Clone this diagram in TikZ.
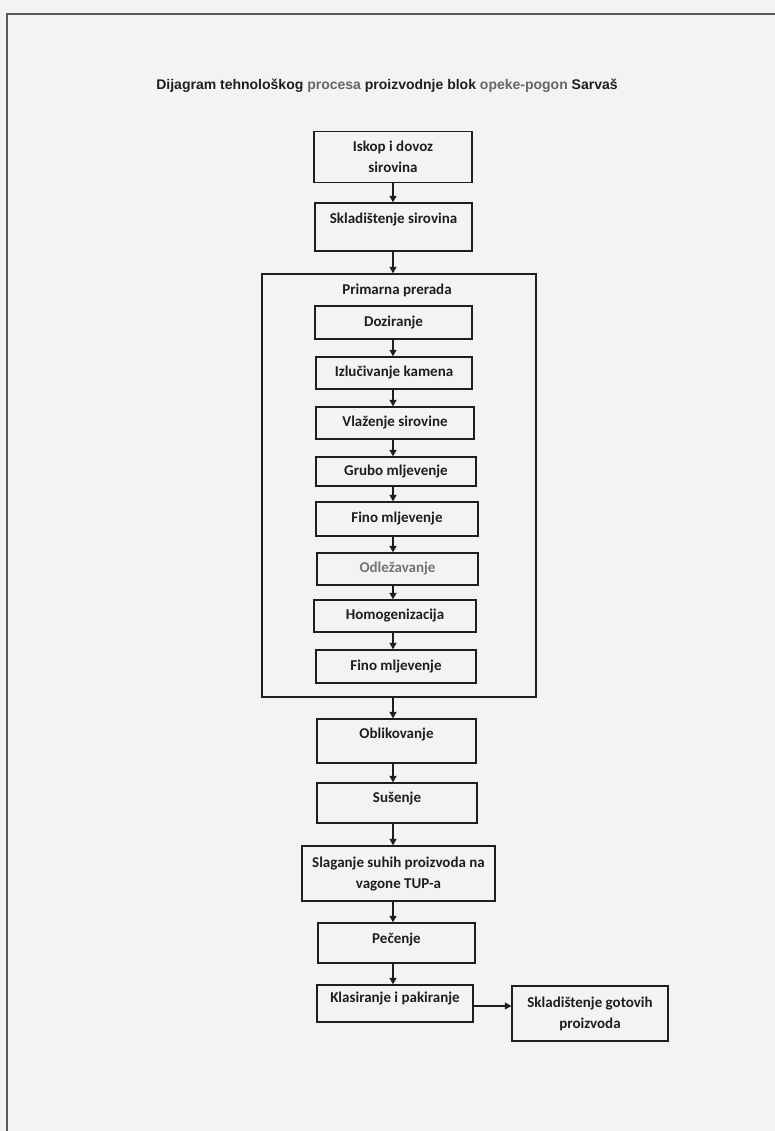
\documentclass[tikz,border=0pt]{standalone}
\usepackage{fontspec}
\setmainfont{Carlito}
\newfontfamily\titlefont{Liberation Sans}
\usetikzlibrary{arrows.meta}
\definecolor{paper}{HTML}{F3F3F3}
\definecolor{ink}{HTML}{1E1E1E}
\definecolor{framec}{HTML}{5A5A5A}
\tikzset{
  boxbase/.style={draw=ink, line width=1.4pt, rectangle, inner sep=0pt, align=center,
    font=\bfseries\fontsize{15}{21}\selectfont, text=ink},
  box/.style={boxbase, text height=10.5pt, text depth=3.5pt},
  boxtwo/.style={boxbase},
  lift/.style={text depth=#1},
  flow/.style={draw=ink, line width=1.3pt, -{Triangle[length=6.5pt,width=7pt]}},
  pageline/.style={draw=framec, line width=2pt},
}
\begin{document}
\begin{tikzpicture}[x=1pt,y=-1pt]
\fill[paper] (0,0) rectangle (775,1131);
\useasboundingbox (0,0) rectangle (775,1131);
% page frame
\coordinate (pTL) at (7,14);
\coordinate (pTR) at (775,14);
\coordinate (pBL) at (7,1131);
\draw[pageline] (pTR) -- (pTL) -- (pBL);
% title
\node[font=\titlefont\bfseries\fontsize{14}{16}\selectfont, text=ink] (title) at (387,86)
  {Dijagram tehnološkog {\color{black!60}procesa} proizvodnje blok {\color{black!60}opeke-pogon} Sarvaš};
\coordinate (ax) at (393,0);
% boxes
\node[boxtwo, minimum width=158pt, minimum height=51pt] (b1) at (393,157) {Iskop i dovoz\\sirovina};
\node[box, lift=17.5pt, minimum width=157pt, minimum height=48pt] (b2) at (393.5,227) {Skladištenje sirovina};
\node[draw=ink, line width=1.4pt, minimum width=274pt, minimum height=423pt, inner sep=0pt] (outer) at (399,485.5) {};
\node[font=\bfseries\fontsize{15}{18}\selectfont, text=ink, text height=10.5pt, text depth=3.5pt] (outt) at (397,291) {Primarna prerada};
\node[box, minimum width=157pt, minimum height=33pt] (b3) at (393.5,322.5) {Doziranje};
\node[box, minimum width=156pt, minimum height=32pt] (b4) at (394,373) {Izlučivanje kamena};
\node[box, minimum width=158pt, minimum height=32pt] (b5) at (395,423) {Vlaženje sirovine};
\node[box, minimum width=160pt, minimum height=29pt] (b6) at (396,471.5) {Grubo mljevenje};
\node[box, minimum width=162pt, minimum height=34pt] (b7) at (397,519) {Fino mljevenje};
\node[box, minimum width=161pt, minimum height=32pt, text=black!55] (b8) at (397.5,569) {Odležavanje};
\node[box, minimum width=162pt, minimum height=32pt] (b9) at (395,616) {Homogenizacija};
\node[box, minimum width=160pt, minimum height=33pt] (b10) at (396,666.5) {Fino mljevenje};
\node[box, lift=15.5pt, minimum width=159pt, minimum height=44pt] (b11) at (396.5,741) {Oblikovanje};
\node[box, lift=11.5pt, minimum width=160pt, minimum height=40pt] (b12) at (397,803) {Sušenje};
\node[boxtwo, minimum width=193pt, minimum height=55pt] (b13) at (398.5,873.5) {Slaganje suhih proizvoda na\\vagone TUP-a};
\node[box, lift=9.5pt, minimum width=157pt, minimum height=40pt] (b14) at (396.5,943) {Pečenje};
\node[box, lift=13.5pt, minimum width=156pt, minimum height=37pt] (b15) at (395,1003.5) {Klasiranje i pakiranje};
\node[boxtwo, minimum width=156pt, minimum height=55pt] (b16) at (590,1013.5) {Skladištenje gotovih\\proizvoda};
% arrows
\draw[flow] (b1.south -| ax) -- (b2.north -| ax);
\draw[flow] (b2.south -| ax) -- (outer.north -| ax);
\draw[flow] (b3.south -| ax) -- (b4.north -| ax);
\draw[flow] (b4.south -| ax) -- (b5.north -| ax);
\draw[flow] (b5.south -| ax) -- (b6.north -| ax);
\draw[flow] (b6.south -| ax) -- (b7.north -| ax);
\draw[flow] (b7.south -| ax) -- (b8.north -| ax);
\draw[flow] (b8.south -| ax) -- (b9.north -| ax);
\draw[flow] (b9.south -| ax) -- (b10.north -| ax);
\draw[flow] (outer.south -| ax) -- (b11.north -| ax);
\draw[flow] (b11.south -| ax) -- (b12.north -| ax);
\draw[flow] (b12.south -| ax) -- (b13.north -| ax);
\draw[flow] (b13.south -| ax) -- (b14.north -| ax);
\draw[flow] (b14.south -| ax) -- (b15.north -| ax);
\coordinate (ay) at (0,1006);
\draw[flow] (b15.east |- ay) -- (b16.west |- ay);
\end{tikzpicture}
\end{document}
